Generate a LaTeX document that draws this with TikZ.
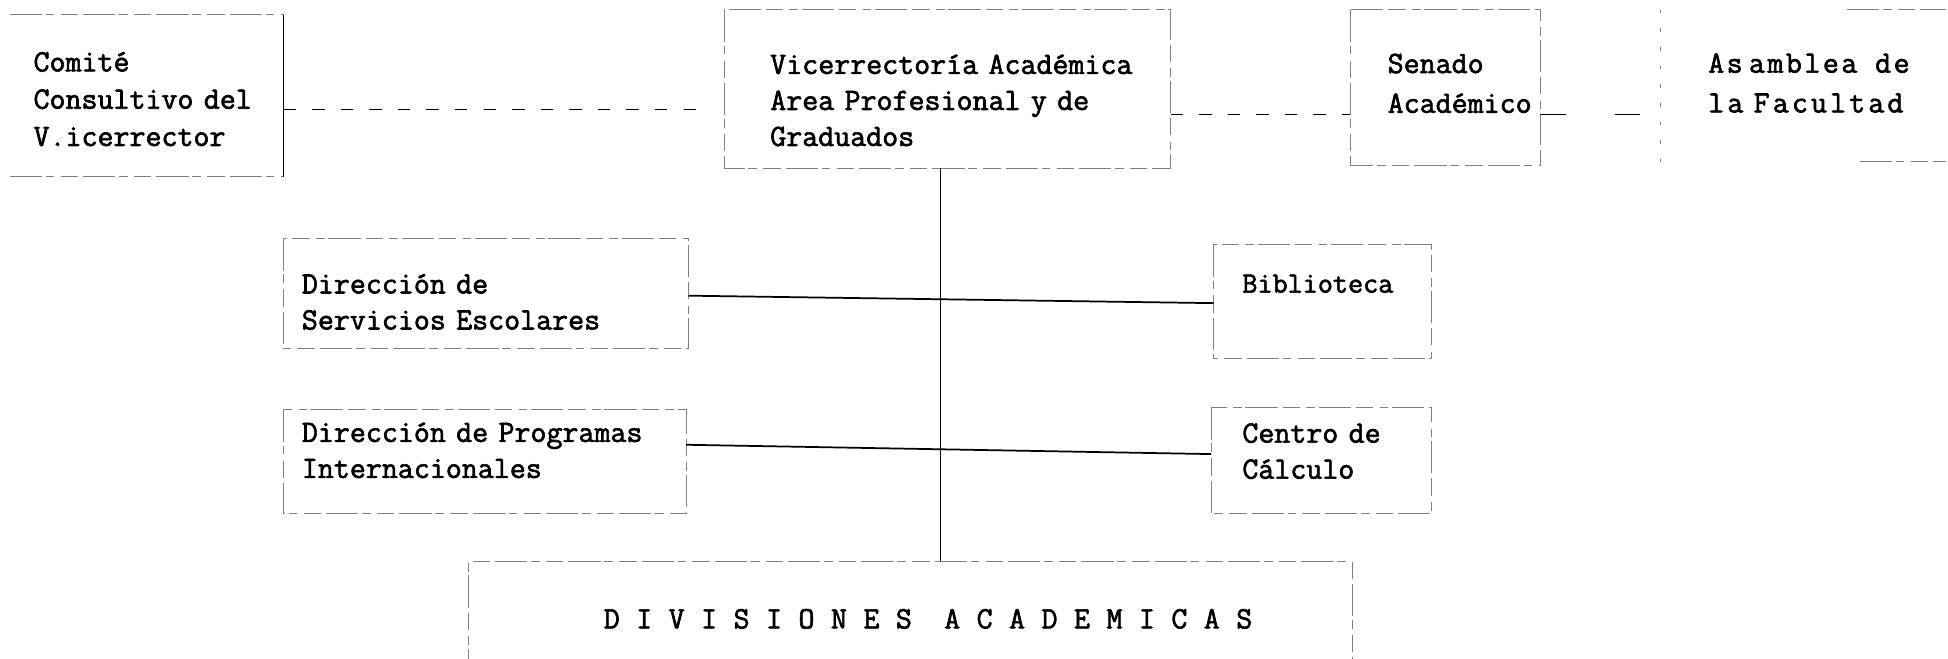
\documentclass[tikz,border=0pt]{standalone}
\usepackage{fontspec}
\setmainfont{DejaVu Serif}
\newfontfamily\typew{Latin Modern Mono}[FakeBold=2]
\usetikzlibrary{calc}
\begin{document}
\begin{tikzpicture}[x=1pt,y=-1pt,
  box/.style={draw=none, inner sep=0pt},
  txt/.style={inner sep=0pt, anchor=base west, align=left, text width=420pt},
  frame/.style={draw=black!50, line width=0.7pt, dash pattern=on 26pt off 3pt on 7pt off 5pt on 14pt off 4pt},
  solidframe/.style={draw=black, line width=1.1pt},
  link/.style={draw=black, line width=1.4pt},
  dlink/.style={draw=black, line width=1.1pt, dash pattern=on 10pt off 13pt}]
\useasboundingbox (0,0) rectangle (1568,530);
% nodes
\node[box, minimum width=220, minimum height=130,
  label={[txt, font=\typew\fontsize{25}{30}\selectfont, xshift=19pt, yshift=-45.7pt]north west:{Comité\\Consultivo del\\V.icerrector}}]
  (comite) at (118,77) {};
\node[box, minimum width=359, minimum height=127,
  label={[txt, font=\typew\fontsize{25}{29}\selectfont, xshift=37pt, yshift=-51.7pt]north west:{Vicerrectoría Académica\\Area Profesional y de\\Graduados}}]
  (vice) at (762.5,71.5) {};
\node[box, minimum width=153, minimum height=125,
  label={[txt, font=\typew\fontsize{25}{32}\selectfont, xshift=30pt, yshift=-51pt]north west:{Senado\\Académico}}]
  (senado) at (1163.5,70.5) {};
\node[box, minimum width=229, minimum height=122,
  label={[txt, font=\typew\fontsize{25}{32}\selectfont, xshift=38pt, yshift=-50.7pt]north west:{{\addfontfeature{LetterSpace=8}As\hspace{5pt}amblea\hspace{6pt} de}\\{\addfontfeature{LetterSpace=10}la Facultad}}}]
  (asamblea) at (1451.5,69) {};
\node[box, minimum width=326, minimum height=88,
  label={[txt, font=\typew\fontsize{25}{29}\selectfont, xshift=15pt, yshift=-44.4pt]north west:{Dirección de\\Servicios Escolares}}]
  (servicios) at (391,236) {};
\node[box, minimum width=175, minimum height=91,
  label={[txt, font=\typew\fontsize{23.6}{29}\selectfont, xshift=23pt, yshift=-38.7pt]north west:{Biblioteca}}]
  (biblio) at (1064.5,242.5) {};
\node[box, minimum width=324, minimum height=83,
  label={[txt, font=\typew\fontsize{25}{29}\selectfont, xshift=15pt, yshift=-25.9pt]north west:{Dirección de Programas\\Internacionales}}]
  (programas) at (390,371.5) {};
\node[box, minimum width=177, minimum height=85,
  label={[txt, font=\typew\fontsize{25}{29}\selectfont, xshift=25pt, yshift=-28.5pt]north west:{Centro de\\Cálculo}}]
  (centro) at (1063.5,370.5) {};
\node[box, minimum width=711, minimum height=96,
  label={[inner sep=0pt, anchor=base, font=\typew\fontsize{25}{29}\selectfont, xshift=14.5pt, yshift=-54pt]north:{\addfontfeature{LetterSpace=53}DIVISIONES\hspace{26pt}ACADEMICAS}}]
  (div) at (732.5,500) {};
% frames
\draw[frame] (comite.north west) -- (comite.north east);
\draw[frame] (comite.south west) -- (comite.south east);
\draw[solidframe] (comite.north east) -- (comite.south east);
\draw[frame] (vice.north west) rectangle (vice.south east);
\draw[frame] (senado.north west) rectangle (senado.south east);
\draw[frame] ([xshift=150pt]asamblea.north west) -- (asamblea.north east);
\draw[frame, dash pattern=on 3pt off 12pt] (asamblea.north west) -- (asamblea.south west);
\draw[frame] ([xshift=160pt]asamblea.south west) -- (asamblea.south east);
\draw[frame] (servicios.north west) rectangle (servicios.south east);
\draw[frame] (biblio.north west) rectangle (biblio.south east);
\draw[frame] (programas.north west) rectangle (programas.south east);
\draw[frame] (centro.north west) rectangle (centro.south east);
\draw[frame] (div.south west) -- (div.north west) -- (div.north east) -- (div.south east);
% connectors
\draw[dlink, shorten >=16pt] ([yshift=-11pt]comite.east) -- ([yshift=-16.5pt]vice.west);
\draw[dlink] ([yshift=-20.5pt]vice.east) -- ([yshift=-21.5pt]senado.west);
\draw[dlink, dash pattern=on 20pt off 40pt] ([yshift=-21.5pt]senado.east) -- ([yshift=-23pt]asamblea.west);
\draw[link] ([xshift=-5.5pt]vice.south) -- ([xshift=-5.5pt]vice.south |- div.north);
\draw[link] ([yshift=-2pt]servicios.east) -- ([yshift=-1.5pt]biblio.west);
\draw[link] ([yshift=13.5pt]programas.east) -- ([yshift=5pt]centro.west);
\end{tikzpicture}
\end{document}
